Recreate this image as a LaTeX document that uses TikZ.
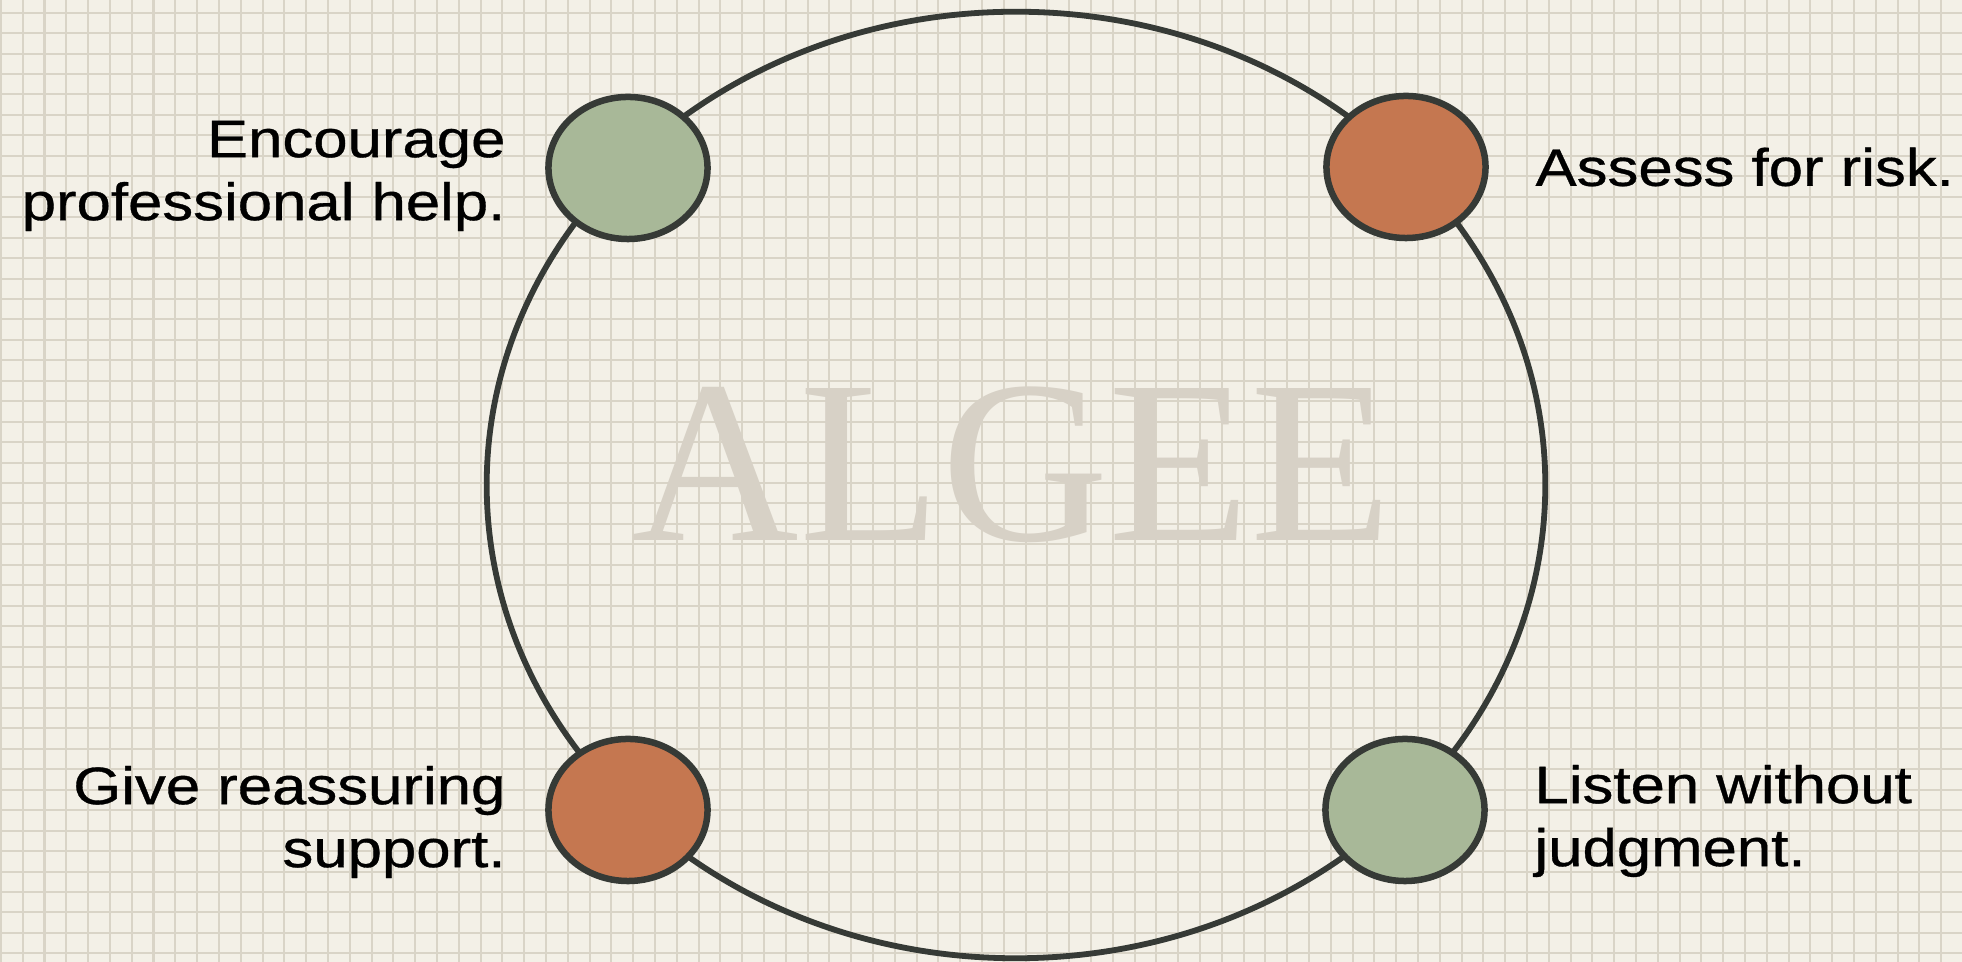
\documentclass[tikz,border=0pt]{standalone}
\usepackage{fontspec}
\setmainfont{Liberation Sans}
\newfontfamily\lblfont{Liberation Sans}[RawFeature={embolden=0.6}]
\newfontfamily\markfont{Liberation Serif}
\usepackage{graphicx}
\usetikzlibrary{positioning, shapes.geometric}
\definecolor{paperc}{HTML}{F3F0E7}
\definecolor{gridc}{HTML}{D9D4C7}
\definecolor{inkc}{HTML}{363A36}
\definecolor{sagec}{HTML}{A8B898}
\definecolor{clayc}{HTML}{C57750}
\definecolor{markc}{HTML}{D7D1C6}
\newcommand{\wide}[1]{\scalebox{1.17}[1]{#1}}

\begin{document}
\begin{tikzpicture}[x=0.01cm, y=-0.01cm,
  gridline/.style={draw=gridc, line width=0.02cm},
  ring/.style={draw=inkc, line width=0.058cm},
  dot/.style={ellipse, draw=inkc, line width=0.065cm, inner sep=0pt,
              minimum width=1.59cm, minimum height=1.42cm},
  sage/.style={fill=sagec},
  clay/.style={fill=clayc},
  lbl/.style={inner sep=0pt, font=\lblfont\fontsize{15}{17.9}\selectfont, text=black}]
\useasboundingbox (0,0) rectangle (1962,962);
\fill[paperc] (0,0) rectangle (1962,962);
% --- grid paper ---
\foreach \i in {0,...,89} \draw[gridline] ({0.9+21.8*\i},0) -- ++(0,962);
\foreach \j in {0,...,46} \draw[gridline] (0,{12.7+20.45*\j}) -- ++(1962,0);
% --- ring and watermark ---
\draw[ring] (1016,485) ellipse [x radius=5.29cm, y radius=4.73cm];
\node[font=\markfont\fontsize{66}{66}\selectfont, text=markc, inner sep=0pt] (T) at (1012,465) {ALGEE};
% --- the four steps ---
\node[dot, sage] (E) at (628,168) {};
\node[dot, clay] (A) at (1406,167) {};
\node[dot, clay] (G) at (628,810) {};
\node[dot, sage] (L) at (1405,810) {};
\node[lbl, align=right, left=0.39cm of E, yshift=-0.08cm] (Et) {\wide{Encourage}\\\wide{professional help.}};
\node[lbl, align=left, right=0.46cm of A] (At) {\wide{Assess for risk.}};
\node[lbl, align=right, left=0.39cm of G, yshift=-0.12cm] (Gt) {\wide{Give reassuring}\\\wide{support.}};
\node[lbl, align=left, right=0.46cm of L, yshift=-0.11cm] (Lt) {\wide{Listen without}\\\wide{judgment.}};
\end{tikzpicture}
\end{document}
